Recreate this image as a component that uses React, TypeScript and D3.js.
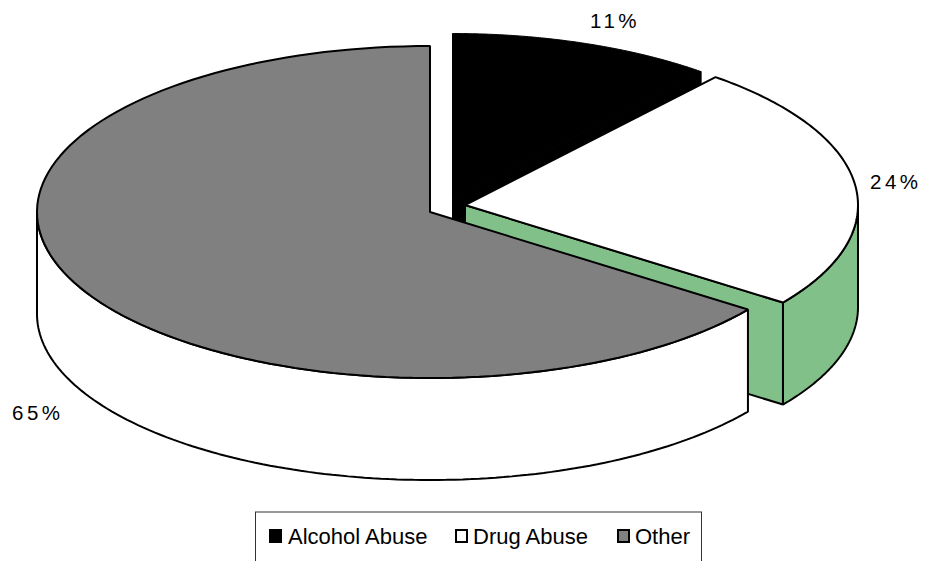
import React from "react";
import * as d3 from "d3";

// Share of cases per category, clockwise from twelve o'clock.
const categories = ["Alcohol Abuse", "Drug Abuse", "Other"];
const shares = [11, 24, 65];
const shareLabels = ["11%", "24%", "65%"];
const topFills = ["#000000", "#ffffff", "#808080"];
const wallFills = ["#000000", "#82c08a", "#ffffff"];

// Tilted-disc projection: each wedge is pulled away from the pie's middle.
const RX = [390, 393, 393];
const RY = 166;
const DEPTH = 102;
const centres: [number, number][] = [
  [452.5, 199.5],
  [465, 205],
  [430, 212],
];
const labelAnchors: [number, number][] = [
  [590, 28],
  [870, 189],
  [12, 420],
];
const legendSwatchX = [269, 455, 617];
const legendTextX = [288, 473, 635];

const slices = d3
  .pie<number>()
  .sort(null)
  .startAngle(0)
  .endAngle(2 * Math.PI)(shares);

const project = (i: number, t: number, dy = 0): [number, number] => [
  centres[i][0] + RX[i] * Math.sin(t),
  centres[i][1] - RY * Math.cos(t) + dy,
];

const line = d3.line<[number, number]>();

const rim = (i: number, a: number, b: number, dy = 0) =>
  d3.range(0, 121).map((k) => project(i, a + ((b - a) * k) / 120, dy));

const closed = (pts: [number, number][]) => `${line(pts)}Z`;

const topFace = (i: number, a: number, b: number) =>
  closed([centres[i], ...rim(i, a, b)]);

// Flat cut face below a radius of the wedge.
const cutFace = (i: number, t: number) => {
  const c = centres[i];
  const p = project(i, t);
  return closed([c, p, [p[0], p[1] + DEPTH], [c[0], c[1] + DEPTH]]);
};

// Curved outer wall for the part of a wedge's rim that faces the viewer.
const outerWall = (i: number, a: number, b: number) =>
  closed([...rim(i, a, b), ...rim(i, b, a, DEPTH)]);

const FONT = "'Liberation Sans', Arial, sans-serif";
const STROKE = { stroke: "#000", strokeWidth: 2, strokeLinejoin: "bevel" as const };
const HAIRLINE = { stroke: "#000", strokeWidth: 1, strokeLinejoin: "bevel" as const };

export default function App() {
  const [alcohol, drug, other] = slices;
  const HALF_PI = Math.PI / 2;
  return (
    <svg
      width={925}
      height={561}
      viewBox="0 0 925 561"
      style={{ position: "absolute", left: 0, top: 0, background: "#fff" }}
    >
      {/* Back wedge */}
      <path d={cutFace(0, alcohol.endAngle)} fill={wallFills[0]} {...HAIRLINE} />
      <path d={topFace(0, alcohol.startAngle, alcohol.endAngle)} fill={topFills[0]} {...HAIRLINE} />

      {/* Exploded right wedge */}
      <path d={outerWall(1, HALF_PI, drug.endAngle)} fill={wallFills[1]} {...STROKE} />
      <path d={cutFace(1, drug.endAngle)} fill={wallFills[1]} {...STROKE} />
      <path d={topFace(1, drug.startAngle, drug.endAngle)} fill={topFills[1]} {...STROKE} />

      {/* Large front wedge */}
      <path d={outerWall(2, other.startAngle, 3 * HALF_PI)} fill={wallFills[2]} {...STROKE} />
      <path d={topFace(2, other.startAngle, other.endAngle)} fill={topFills[2]} {...STROKE} />

      {shareLabels.map((s, i) => (
        <text
          key={s}
          x={labelAnchors[i][0]}
          y={labelAnchors[i][1]}
          fontFamily={FONT}
          fontSize={20.5}
          letterSpacing={3.5}
          fill="#000"
        >
          {s}
        </text>
      ))}

      {/* Legend box runs off the bottom edge */}
      <rect x={255.5} y={512} width={446} height={60} fill="#fff" stroke="#333" strokeWidth={1} />
      {categories.map((c, i) => (
        <g key={c}>
          <rect
            x={legendSwatchX[i] + 1}
            y={530}
            width={11}
            height={12}
            fill={topFills[i]}
            stroke="#000"
            strokeWidth={2}
          />
          <text x={legendTextX[i]} y={544} fontFamily={FONT} fontSize={22} fill="#000">
            {c}
          </text>
        </g>
      ))}
    </svg>
  );
}
